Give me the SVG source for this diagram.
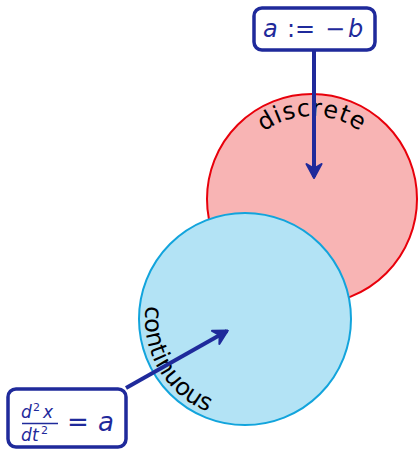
<svg xmlns="http://www.w3.org/2000/svg" width="420" height="450" viewBox="0 0 420 450">
  <style>
    .lbl { font-family: "DejaVu Sans", sans-serif; font-size: 24px; fill: #000; }
    .box { fill: #fff; stroke: #1f2a9b; stroke-width: 3.5; }
    .math { font-family: "DejaVu Sans", sans-serif; fill: #1f2a9b; }
    .it { font-style: oblique; }
    .conn { stroke: #1f2a9b; stroke-width: 4; fill: none; marker-end: url(#head); }
  </style>
  <defs>
    <marker id="head" viewBox="-15 -9 17 18" refX="0" refY="0" markerWidth="17" markerHeight="18" markerUnits="userSpaceOnUse" orient="auto">
      <path d="M1,0 L-13,-7.5 L-8.5,0 L-13,7.5 Z" fill="#1f2a9b" stroke="#1f2a9b" stroke-width="2" stroke-linejoin="round"/>
    </marker>
    <path id="arcD" d="M229,199 A83,83 0 0 1 395,199"/>
    <path id="arcC" d="M245,219 A100,100 0 0 0 245,419"/>
  </defs>

  <g id="discrete">
    <circle cx="312" cy="199" r="105" fill="#f8b4b4" stroke="#e8000b" stroke-width="2"/>
    <text class="lbl" letter-spacing="1"><textPath href="#arcD" startOffset="50%" text-anchor="middle">discrete</textPath></text>
  </g>

  <g id="continuous">
    <circle cx="245" cy="319" r="106" fill="#b3e3f5" stroke="#12a4dc" stroke-width="2"/>
    <text class="lbl"><textPath href="#arcC" startOffset="66.8%" text-anchor="middle">continuous</textPath></text>
  </g>

  <g id="assign">
    <rect class="box" x="254" y="8" width="121" height="42" rx="8"/>
    <text class="math" font-size="24" y="37">
      <tspan class="it" x="263">a</tspan><tspan x="287">:=</tspan><tspan x="325">−</tspan><tspan class="it" x="348">b</tspan>
    </text>
  </g>

  <g id="ode">
    <rect class="box" x="8" y="389" width="118" height="58" rx="8"/>
    <text class="math" font-size="17" y="418">
      <tspan class="it" x="21">d</tspan><tspan font-size="11" x="33" dy="-7">2</tspan><tspan class="it" x="43" dy="7">x</tspan>
    </text>
    <line x1="22" y1="423.5" x2="58" y2="423.5" stroke="#1f2a9b" stroke-width="1.3"/>
    <text class="math" font-size="17" y="441">
      <tspan class="it" x="21">d</tspan><tspan class="it" x="32">t</tspan><tspan font-size="11" x="41" dy="-7">2</tspan>
    </text>
    <text class="math" font-size="26" y="431">
      <tspan x="67">=</tspan><tspan class="it" x="98">a</tspan>
    </text>
  </g>

  <g id="connectors">
    <line class="conn" x1="314" y1="51" x2="314" y2="177"/>
    <line class="conn" x1="126" y1="388" x2="227" y2="331"/>
  </g>
</svg>
